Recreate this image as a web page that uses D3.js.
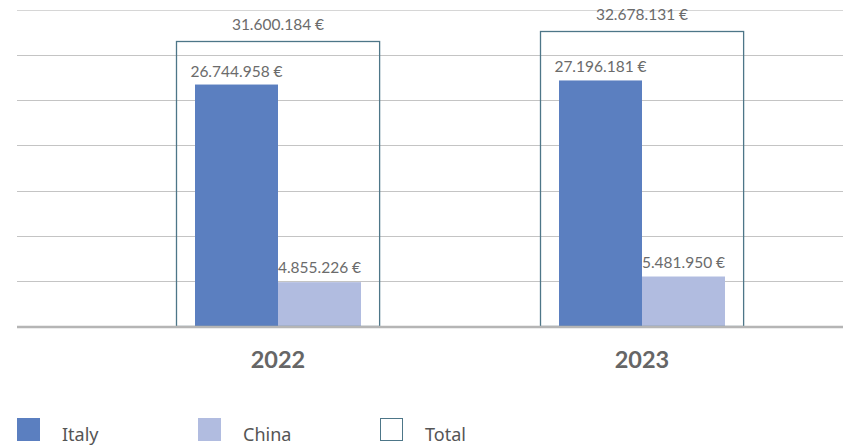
<!DOCTYPE html>
<html>
<head>
<meta charset="utf-8">
<script src="https://cdn.jsdelivr.net/npm/d3@7"></script>
<style>
  body { margin: 0; background: #fff; }
  svg { display: block; }
</style>
</head>
<body>
<script>
// data
var years = ["2022", "2023"];
var italy = [26744958, 27196181];
var china = [4855226, 5481950];
var total = [31600184, 32678131];
var gridTicks = [0, 5e6, 10e6, 15e6, 20e6, 25e6, 30e6, 35e6];

var width = 843, height = 445;
var baseY = 326, topY = 10;

var fmt = function (v) {
  return String(v).replace(/\B(?=(\d{3})+(?!\d))/g, ".") + " €";
};

var svg = d3.select("body").append("svg")
  .attr("width", width)
  .attr("height", height);

var x = d3.scaleBand().domain(years).range([96, 824]).padding(0);
var y = d3.scaleLinear().domain([0, 35e6]).range([baseY, topY]);

var boxW = x.bandwidth() * 0.558;
var barW = 83;

// gridlines
svg.append("g").selectAll("line")
  .data(gridTicks.slice(1))
  .enter().append("line")
  .attr("x1", 17).attr("x2", width)
  .attr("y1", function (d) { return Math.round(y(d)) + 0.5; })
  .attr("y2", function (d) { return Math.round(y(d)) + 0.5; })
  .attr("stroke", function (d) { return d === 35e6 ? "#d6d6d6" : "#c4c4c4"; })
  .attr("stroke-width", 1);

var g = svg.selectAll(".yr")
  .data(years)
  .enter().append("g")
  .attr("class", "yr");

// italy bars
g.append("rect")
  .attr("x", function (d) { return x(d) + x.bandwidth() / 2 - barW; })
  .attr("y", function (d, i) { return y(italy[i]); })
  .attr("width", barW)
  .attr("height", function (d, i) { return baseY - y(italy[i]); })
  .attr("fill", "#5b7fc0");

// china bars
g.append("rect")
  .attr("x", function (d) { return x(d) + x.bandwidth() / 2; })
  .attr("y", function (d, i) { return y(china[i]); })
  .attr("width", barW)
  .attr("height", function (d, i) { return baseY - y(china[i]); })
  .attr("fill", "#b1bce0");

// total boxes
g.append("rect")
  .attr("x", function (d) { return Math.round(x(d) + x.bandwidth() / 2 - boxW / 2) + 0.5; })
  .attr("y", function (d, i) { return Math.round(y(total[i])) + 0.5; })
  .attr("width", boxW)
  .attr("height", function (d, i) { return baseY - Math.round(y(total[i])); })
  .attr("fill", "none")
  .attr("stroke", "#4d7688")
  .attr("stroke-width", 1.3);

// baseline
svg.append("line")
  .attr("x1", 17).attr("x2", width)
  .attr("y1", baseY + 1).attr("y2", baseY + 1)
  .attr("stroke", "#b5b5b5")
  .attr("stroke-width", 2.5);

var lblFont = "Lato, 'Liberation Sans', sans-serif";

// value labels
g.append("text")
  .attr("x", function (d) { return x(d) + x.bandwidth() / 2; })
  .attr("y", function (d, i) { return y(total[i]) - 11; })
  .attr("text-anchor", "middle")
  .style("font-family", lblFont).style("font-size", "15.5px").style("fill", "#6b6b6b")
  .text(function (d, i) { return fmt(total[i]); });

g.append("text")
  .attr("x", function (d) { return x(d) + x.bandwidth() / 2 - barW / 2; })
  .attr("y", function (d, i) { return y(italy[i]) - 8; })
  .attr("text-anchor", "middle")
  .style("font-family", lblFont).style("font-size", "15.5px").style("fill", "#6b6b6b")
  .text(function (d, i) { return fmt(italy[i]); });

g.append("text")
  .attr("x", function (d) { return x(d) + x.bandwidth() / 2 + barW / 2; })
  .attr("y", function (d, i) { return y(china[i]) - 9; })
  .attr("text-anchor", "middle")
  .style("font-family", lblFont).style("font-size", "15.5px").style("fill", "#6b6b6b")
  .text(function (d, i) { return fmt(china[i]); });

// year labels
g.append("text")
  .attr("x", function (d) { return x(d) + x.bandwidth() / 2; })
  .attr("y", 368)
  .attr("text-anchor", "middle")
  .style("font-family", lblFont).style("font-size", "23.5px")
  .style("font-weight", "bold").style("fill", "#666")
  .text(function (d) { return d; });

// legend
var legend = [
  { name: "Italy", fill: "#5b7fc0", stroke: "none", x: 17 },
  { name: "China", fill: "#b1bce0", stroke: "none", x: 198 },
  { name: "Total", fill: "none", stroke: "#4d7688", x: 380 }
];
var lg = svg.selectAll(".lg")
  .data(legend)
  .enter().append("g")
  .attr("class", "lg")
  .attr("transform", function (d) { return "translate(" + d.x + ",418)"; });

lg.append("rect")
  .attr("x", function (d) { return d.stroke === "none" ? 0 : 0.5; })
  .attr("y", function (d) { return d.stroke === "none" ? 0 : 0.5; })
  .attr("width", function (d) { return d.stroke === "none" ? 23 : 22; })
  .attr("height", function (d) { return d.stroke === "none" ? 23 : 22; })
  .attr("fill", function (d) { return d.fill; })
  .attr("stroke", function (d) { return d.stroke; });

lg.append("text")
  .attr("x", 45).attr("y", 23)
  .style("font-family", "'Noto Sans', 'Open Sans', sans-serif")
  .style("font-size", "18px").style("fill", "#555")
  .text(function (d) { return d.name; });
</script>
</body>
</html>
